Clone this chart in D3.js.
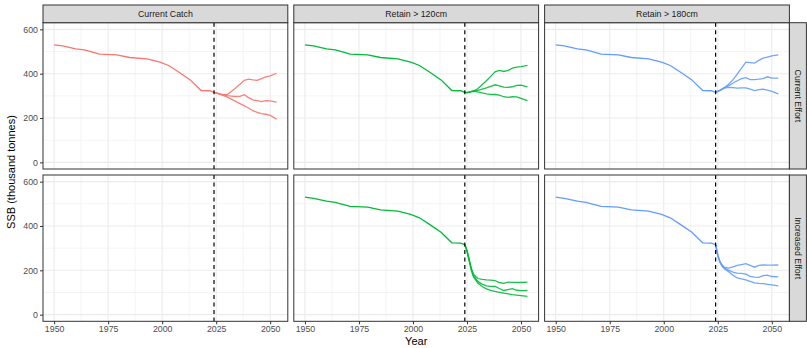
<!DOCTYPE html>
<html>
<head>
<meta charset="utf-8">
<script src="https://cdn.jsdelivr.net/npm/d3@7"></script>
<style>
  body { margin: 0; background: #fff; }
  svg { display: block; font-family: "Liberation Sans", Arial, sans-serif; }
</style>
</head>
<body>
<div id="chart"></div>
<script>
// ----------- DATA ------------
const scenarios = ['Current Catch', 'Retain > 120cm', 'Retain > 180cm'];
const efforts = ['Current Effort', 'Increased Effort'];
const scenarioColors = ['#F8766D', '#00BA38', '#619CFF'];

const histYears = [1950, 1954, 1960, 1964, 1967, 1971, 1979, 1985, 1993, 1999, 2003, 2008, 2013, 2018, 2022, 2024];
const histSSB = [530, 525, 512, 507, 499, 488, 485, 473, 467, 452, 437, 405, 372, 324, 323, 316];

const projYears = [2024, 2025, 2026, 2027, 2028, 2030, 2032, 2034, 2036, 2038, 2040, 2042, 2044, 2046, 2048, 2050, 2053];

// Current Catch, Current Effort
const ccCurHigh = [316, 313, 310, 308, 305, 305, 320, 335, 352, 370, 375, 372, 370, 378, 386, 390, 402];
const ccCurMid = [316, 313, 310, 308, 305, 301, 299, 297, 298, 305, 292, 282, 278, 274, 278, 277, 272];
const ccCurLow = [316, 313, 310, 306, 302, 295, 285, 275, 265, 255, 245, 233, 225, 220, 217, 212, 195];

// Retain > 120cm, Current Effort
const r120CurHigh = [316, 315, 317, 320, 322, 332, 350, 368, 388, 408, 415, 410, 415, 425, 430, 432, 437];
const r120CurMid = [316, 315, 317, 319, 321, 325, 330, 336, 343, 350, 345, 339, 338, 341, 347, 348, 340];
const r120CurLow = [316, 315, 317, 319, 320, 318, 313, 309, 307, 306, 303, 296, 293, 296, 295, 289, 278];

// Retain > 180cm, Current Effort
const r180CurHigh = [316, 320, 325, 331, 337, 352, 372, 398, 425, 452, 450, 448, 460, 470, 475, 480, 485];
const r180CurMid = [316, 320, 325, 330, 336, 345, 357, 368, 378, 382, 373, 373, 375, 378, 386, 380, 380];
const r180CurLow = [316, 320, 325, 330, 335, 338, 337, 335, 336, 336, 330, 324, 328, 330, 326, 320, 309];

// Retain > 120cm, Increased Effort
const r120IncHigh = [316, 290, 250, 210, 183, 163, 159, 157, 156, 154, 145, 141, 147, 146, 146, 145, 147];
const r120IncMid = [316, 288, 247, 205, 176, 150, 138, 130, 128, 127, 118, 109, 113, 117, 110, 108, 109];
const r120IncLow = [316, 286, 244, 200, 170, 143, 127, 116, 110, 105, 101, 97, 94, 90, 88, 86, 82];

// Retain > 180cm, Increased Effort
const r180IncHigh = [316, 270, 240, 224, 214, 210, 216, 222, 226, 230, 222, 214, 222, 224, 223, 223, 224];
const r180IncMid = [316, 268, 238, 222, 211, 201, 192, 187, 186, 183, 173, 169, 168, 176, 178, 172, 170];
const r180IncLow = [316, 266, 236, 218, 207, 194, 178, 166, 161, 157, 150, 143, 141, 140, 137, 134, 130];

const projectionStart = 2024;
const xTicks = [1950, 1975, 2000, 2025, 2050];
const xMinor = [1962.5, 1987.5, 2012.5, 2037.5];
const yTicks = [0, 200, 400, 600];
const yMinor = [100, 300, 500];

// table of panels: [row][col] -> list of projection series
const projections = [
  [[ccCurHigh, ccCurMid, ccCurLow], [r120CurHigh, r120CurMid, r120CurLow], [r180CurHigh, r180CurMid, r180CurLow]],
  [null, [r120IncHigh, r120IncMid, r120IncLow], [r180IncHigh, r180IncMid, r180IncLow]],
];

// ----------- LAYOUT ------------
const width = 807, height = 348;
const marginLeft = 43, marginTop = 5;
const panelW = 244.8, panelH = 146.3, gap = 6;
const stripH = 17.7, stripW = 17;

const svg = d3.select('#chart').append('svg')
  .attr('width', width)
  .attr('height', height);

const x = d3.scaleLinear().domain([1950 - 5.15, 2053 + 5.15]).range([0, panelW]);
const y = d3.scaleLinear().domain([-30, 630]).range([panelH, 0]);

const line = d3.line()
  .x((d) => x(d[0]))
  .y((d) => y(d[1]));

const histData = histYears.map((yr, i) => [yr, histSSB[i]]);

efforts.forEach((effort, r) => {
  const py = marginTop + stripH + r * (panelH + gap);
  scenarios.forEach((scen, c) => {
    const px = marginLeft + c * (panelW + gap);
    const g = svg.append('g').attr('transform', `translate(${px}, ${py})`);

    // background + grid
    g.append('rect').attr('width', panelW).attr('height', panelH).attr('fill', '#fff');
    g.selectAll('.xminor').data(xMinor).enter().append('line')
      .attr('x1', (d) => x(d)).attr('x2', (d) => x(d))
      .attr('y1', 0).attr('y2', panelH)
      .attr('stroke', '#EBEBEB').attr('stroke-width', 0.55);
    g.selectAll('.yminor').data(yMinor).enter().append('line')
      .attr('y1', (d) => y(d)).attr('y2', (d) => y(d))
      .attr('x1', 0).attr('x2', panelW)
      .attr('stroke', '#EBEBEB').attr('stroke-width', 0.55);
    g.selectAll('.xmajor').data(xTicks).enter().append('line')
      .attr('x1', (d) => x(d)).attr('x2', (d) => x(d))
      .attr('y1', 0).attr('y2', panelH)
      .attr('stroke', '#EBEBEB').attr('stroke-width', 1.1);
    g.selectAll('.ymajor').data(yTicks).enter().append('line')
      .attr('y1', (d) => y(d)).attr('y2', (d) => y(d))
      .attr('x1', 0).attr('x2', panelW)
      .attr('stroke', '#EBEBEB').attr('stroke-width', 1.1);

    // lines
    const proj = projections[r][c];
    if (proj) {
      g.append('path')
        .attr('d', line(histData))
        .attr('fill', 'none')
        .attr('stroke', scenarioColors[c])
        .attr('stroke-width', 1.3);
      proj.forEach((vals) => {
        g.append('path')
          .attr('d', line(projYears.map((yr, i) => [yr, vals[i]])))
          .attr('fill', 'none')
          .attr('stroke', scenarioColors[c])
          .attr('stroke-width', 1.3)
          .attr('stroke-opacity', 0.9);
      });
    }

    // projection start
    g.append('line')
      .attr('x1', x(projectionStart)).attr('x2', x(projectionStart))
      .attr('y1', 0).attr('y2', panelH)
      .attr('stroke', '#000').attr('stroke-width', 1.2)
      .attr('stroke-dasharray', '4,3.5');

    // border
    g.append('rect').attr('width', panelW).attr('height', panelH)
      .attr('fill', 'none').attr('stroke', '#333333').attr('stroke-width', 1);

    // y axis
    if (c === 0) {
      const ya = g.append('g').call(d3.axisLeft(y).tickValues(yTicks).tickSize(3).tickPadding(2));
      ya.select('.domain').remove();
      ya.selectAll('line').attr('stroke', '#333333');
      ya.selectAll('text').attr('fill', '#4D4D4D').style('font-size', '8.8px')
        .style('font-family', '"Liberation Sans", Arial, sans-serif');
    }
    // x axis
    if (r === efforts.length - 1) {
      const xa = g.append('g').attr('transform', `translate(0, ${panelH})`)
        .call(d3.axisBottom(x).tickValues(xTicks).tickFormat(d3.format('d')).tickSize(3).tickPadding(1.5));
      xa.select('.domain').remove();
      xa.selectAll('line').attr('stroke', '#333333');
      xa.selectAll('text').attr('fill', '#4D4D4D').style('font-size', '8.8px')
        .style('font-family', '"Liberation Sans", Arial, sans-serif');
    }

    // top strip
    if (r === 0) {
      const s = svg.append('g').attr('transform', `translate(${px}, ${marginTop})`);
      s.append('rect').attr('width', panelW).attr('height', stripH)
        .attr('fill', '#D9D9D9').attr('stroke', '#333333').attr('stroke-width', 1);
      s.append('text').attr('x', panelW / 2).attr('y', stripH / 2 + 3)
        .attr('text-anchor', 'middle').attr('fill', '#1A1A1A').style('font-size', '8.8px')
        .text(scen);
    }
  });

  // right strip
  const sx = marginLeft + 3 * panelW + 2 * gap;
  const rs = svg.append('g').attr('transform', `translate(${sx}, ${py})`);
  rs.append('rect').attr('width', stripW).attr('height', panelH)
    .attr('fill', '#D9D9D9').attr('stroke', '#333333').attr('stroke-width', 1);
  rs.append('text')
    .attr('transform', `translate(${stripW / 2 - 3}, ${panelH / 2}) rotate(90)`)
    .attr('text-anchor', 'middle').attr('fill', '#1A1A1A').style('font-size', '8.8px')
    .text(effort);
});

// axis titles
const panelsBottom = marginTop + stripH + 2 * panelH + gap;
svg.append('text')
  .attr('x', marginLeft + (3 * panelW + 2 * gap) / 2)
  .attr('y', panelsBottom + 24)
  .attr('text-anchor', 'middle').style('font-size', '11px').attr('fill', '#000')
  .text('Year');

svg.append('text')
  .attr('transform', `translate(${15}, ${marginTop + stripH + (2 * panelH + gap) / 2}) rotate(-90)`)
  .attr('text-anchor', 'middle').style('font-size', '11px').attr('fill', '#000')
  .text('SSB (thousand tonnes)');
</script>
</body>
</html>
